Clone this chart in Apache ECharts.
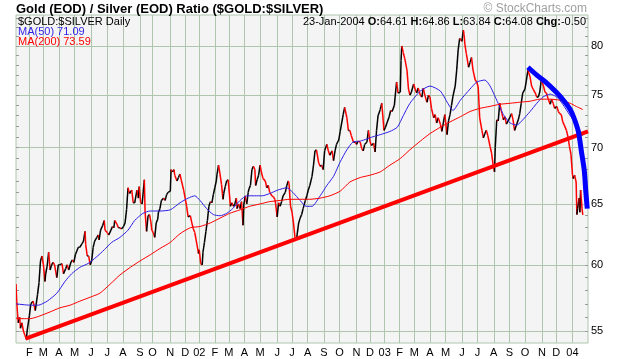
<!DOCTYPE html>
<html><head><meta charset="utf-8">
<script src="https://cdn.jsdelivr.net/npm/echarts@6/dist/echarts.min.js"></script>
<style>html,body{margin:0;padding:0;background:#fff}#c{width:620px;height:359px}</style>
</head><body><div id="c"></div>
<script>
// x = trading-day index (0 = first bar shown, early Jan 2001)
const monthStartDay = [18,37,58,79,101,123,144,167,184,208,228,247,268,287,308,329,352,372,393,415,436,459,477,497,517,537,558,579,601,622,644,665,686,709,728,750];
const monthLabel = ['F','M','A','M','J','J','A','S','O','N','D','02','F','M','A','M','J','J','A','S','O','N','D','03','F','M','A','M','J','J','A','S','O','N','D','04'];
const yTickValues = [55,60,65,70,75,80];
const yMinorValues = [55,56,57,58,59,60,61,62,63,64,65,66,67,68,69,70,71,72,73,74,75,76,77,78,79,80,81,82,83];

const priceDay = [
0,1,2,3,5,6,8,10,12,14,
15,18,20,23,26,29,31,33,35,37,
39,40,42,44,46,48,50,52,55,57,
59,62,64,67,69,71,74,76,78,80,
84,86,89,91,93,94,96,98,100,102,
104,106,109,111,112,114,117,119,120,123,
125,128,130,132,133,136,138,140,142,145,
147,149,151,153,156,158,160,163,165,166,
168,170,173,174,176,178,180,182,183,185,
187,189,191,192,194,196,199,201,203,205,
208,209,211,213,214,217,219,221,223,226,
228,230,232,235,237,239,241,244,246,247,
249,251,252,254,256,258,260,262,264,266,
268,270,271,273,275,277,279,280,282,284,
286,288,289,291,293,295,297,298,300,302,
304,306,307,309,311,313,314,316,318,320,
322,323,325,327,329,331,333,336,338,340,
342,345,347,349,350,352,354,356,358,360,
363,365,367,368,370,372,374,376,378,381,
383,385,387,390,392,394,396,399,401,403,
405,408,410,412,414,416,419,421,423,426,
428,430,432,435,437,439,441,443,446,448,
450,452,455,457,459,461,464,466,468,470,
473,475,477,479,482,484,486,488,491,493,
495,496,498,500,503,505,507,510,511,513,
515,518,519,520,522,524,527,529,531,533,
536,538,540,542,545,547,549,551,554,556,
558,560,563,565,567,569,572,574,576,578,
581,583,585,587,589,592,594,596,598,601,
603,604,605,607,610,612,614,616,619,621,
623,625,628,630,632,634,636,639,641,643,
645,646,648,650,652,655,657,659,661,664,
666,668,670,672,675,677,679,681,683,686,
688,690,693,695,697,700,702,704,706,708,
711,713,715,717,720,722,724,726,729,731,
733,735,737,739,742,744,746,748,750,751,
753,755,756,757,759,760,761,763,764];
const priceVal = [
58.5,57.2,56.3,55.6,56.0,55.2,55.6,55.0,54.7,54.4,
55.0,56.1,57.0,57.2,56.5,57.7,58.6,60.3,60.7,60.0,
58.7,59.3,59.9,61.0,59.6,60.0,60.2,60.0,59.0,60.0,
60.0,60.1,59.3,59.7,60.0,59.6,60.2,60.4,60.2,60.8,
61.4,61.4,61.7,61.9,62.7,61.6,60.7,60.7,60.0,60.3,
61.4,61.9,62.2,62.4,62.0,62.8,63.2,63.6,62.8,62.6,
62.4,62.8,63.1,63.0,63.6,63.3,63.0,63.0,62.9,63.1,
63.4,64.5,66.4,65.9,66.2,65.1,65.1,66.2,65.5,66.5,
65.1,65.0,67.1,64.3,62.7,64.0,64.1,63.4,62.8,62.6,
62.2,63.4,63.7,64.3,64.6,65.3,65.5,65.3,65.8,66.0,
66.1,68.0,67.8,68.0,67.5,67.0,67.3,67.6,67.0,66.2,
65.5,64.8,63.9,64.0,63.4,62.9,62.6,61.6,60.9,61.2,
60.1,60.0,61.0,61.8,62.7,63.6,64.8,65.2,65.1,65.8,
66.4,67.0,67.6,68.4,67.6,66.7,65.4,65.9,66.5,67.0,
67.1,65.6,64.8,65.1,64.8,65.0,65.5,64.6,65.0,64.6,
65.2,63.2,64.9,65.7,65.0,66.0,66.3,66.6,68.0,68.3,
68.0,66.6,67.1,67.5,68.4,67.7,67.2,67.0,66.4,66.6,
66.0,65.7,65.6,65.4,65.0,63.9,65.1,64.8,65.2,65.7,
66.0,66.6,67.0,66.8,64.8,64.3,63.4,62.2,62.0,63.4,
63.8,64.1,64.6,65.3,65.7,66.2,66.6,67.4,68.4,69.7,
69.8,68.6,68.3,68.4,68.0,69.7,70.3,69.7,69.3,69.7,
68.8,69.7,70.3,70.7,71.5,72.3,73.1,73.8,72.8,71.6,
71.6,71.1,70.5,70.5,70.3,70.6,70.5,69.9,69.7,70.3,
70.5,71.6,70.6,70.2,70.4,69.6,71.6,73.0,73.6,74.2,
72.5,71.6,71.9,72.3,72.9,73.5,73.4,74.0,74.8,76.3,
75.2,75.3,78.5,80.0,79.3,78.7,77.5,75.6,75.0,75.3,
76.1,75.6,75.2,75.7,75.0,74.8,75.7,75.0,74.3,75.0,
74.8,73.7,72.8,73.1,72.3,72.8,72.2,71.5,72.3,73.1,
71.2,72.5,73.1,74.0,74.9,75.9,77.5,79.6,80.8,80.5,
81.7,81.2,80.2,79.2,77.8,78.3,78.8,77.5,76.5,76.3,
75.8,72.8,71.6,70.9,71.3,71.6,71.1,70.1,69.5,68.5,
67.8,70.0,72.6,72.5,74.2,73.2,72.6,72.9,72.2,72.6,
72.9,73.2,72.6,71.6,72.2,72.6,73.2,74.2,75.2,75.6,
76.5,77.5,76.8,75.9,75.6,75.2,74.8,74.8,75.3,76.5,
75.9,75.3,75.2,74.7,74.1,74.6,74.2,73.7,73.9,73.4,
73.2,73.1,72.4,72.1,71.6,71.0,70.1,69.4,67.6,67.2,
67.5,66.9,64.1,64.6,65.5,64.3,66.2,64.58,64.08];

const ma50Day = [0,19,30,42,55,66,75,86,97,108,119,129,140,151,160,171,181,194,208,221,232,241,248,257,266,275,284,292,302,311,322,332,342,353,365,373,383,391,399,410,419,428,437,446,454,464,473,481,491,504,514,522,531,545,558,572,582,589,599,612,621,632,639,648,657,666,675,683,693,702,710,720,729,737,746,755,764];
const ma50Val = [57.0,56.9,56.9,57.2,57.8,58.7,59.3,59.8,60.1,60.6,61.2,61.8,62.2,62.8,63.6,64.2,64.4,64.4,64.5,65.1,65.5,65.7,65.3,64.6,64.1,64.0,64.2,64.6,65.3,65.7,65.7,65.7,65.9,66.2,66.4,66.0,65.3,64.8,64.8,65.7,66.6,67.4,68.7,69.8,70.5,70.6,70.8,71.0,71.2,71.5,71.9,73.0,74.2,75.4,75.9,75.4,74.2,73.5,74.5,75.6,76.3,76.5,75.9,74.5,73.1,72.3,72.1,72.6,73.4,74.2,74.8,75.1,74.8,74.1,73.1,72.2,71.09];

const ma200Day = [0,19,32,46,59,73,86,100,113,127,140,154,167,181,194,208,221,235,248,262,275,288,302,315,329,342,356,369,383,396,410,423,437,450,464,477,491,504,518,531,545,558,572,585,599,612,625,639,652,666,679,693,706,720,733,747,755,764];
const ma200Val = [55.9,55.9,56.1,56.4,56.7,56.9,57.2,57.5,57.8,58.5,59.2,59.8,60.3,60.8,61.3,61.8,62.5,63.0,63.1,63.4,63.8,64.2,64.5,64.8,65.0,65.2,65.3,65.4,65.4,65.4,65.5,65.7,66.1,66.9,67.3,67.5,67.8,68.4,69.0,69.8,70.6,71.3,71.9,72.4,72.9,73.4,73.7,73.9,74.1,74.2,74.3,74.4,74.6,74.6,74.5,74.2,73.9,73.59];

const trendDay = [13, 771];
const trendVal = [54.45, 71.5];

const arcDay = [690,702,714,728,739,747,752,758,762,766,768,770];
const arcVal = [77.8,77.0,76.3,75.3,74.4,73.6,72.8,71.5,69.7,67.9,66.1,64.6];

const FONT = '"Liberation Sans", Arial, Helvetica, sans-serif';
const GRID = '#aec6ae';
const pairs = (d, v) => d.map((x, i) => [x, v[i]]);

const yBase = {type: 'log', logBase: 10, min: 54.14, max: 83.33, gridIndex: 0};

const chart = echarts.init(document.getElementById('c'), null, {renderer: 'canvas'});
chart.setOption({
  animation: false,
  backgroundColor: '#ffffff',
  grid: {left: 16, right: 32, top: 15, bottom: 16, show: true, backgroundColor: '#f4f4f4', borderColor: GRID, borderWidth: 1, containLabel: false},
  xAxis: {
    type: 'value', min: 0, max: 771,
    axisLine: {show: false},
    axisTick: {show: false, customValues: monthStartDay},
    axisLabel: {customValues: monthStartDay, margin: 4, fontSize: 11, fontFamily: FONT, color: '#000',
      formatter: v => monthLabel[monthStartDay.indexOf(v)] || ''},
    splitLine: {show: true, lineStyle: {color: GRID, width: 1}}
  },
  yAxis: [
    Object.assign({}, yBase, {
      position: 'right',
      axisLine: {show: false},
      axisTick: {show: false, customValues: yTickValues},
      axisLabel: {customValues: yTickValues, margin: 3, fontSize: 11, fontFamily: FONT, color: '#000', formatter: v => String(Math.round(v))},
      splitLine: {show: true, lineStyle: {color: GRID, width: 1}}
    }),
    Object.assign({}, yBase, {
      position: 'right',
      axisLine: {show: false},
      axisTick: {show: true, inside: true, length: 3, customValues: yMinorValues, lineStyle: {color: '#9a9a9a'}},
      axisLabel: {show: false},
      splitLine: {show: false}
    }),
    Object.assign({}, yBase, {
      position: 'left',
      axisLine: {show: false},
      axisTick: {show: true, inside: true, length: 3, customValues: yMinorValues, lineStyle: {color: '#9a9a9a'}},
      axisLabel: {show: false},
      splitLine: {show: false}
    })
  ],
  series: [
    {
      type: 'custom', silent: true, clip: true,
      data: pairs(priceDay, priceVal),
      encode: {x: 0, y: 1},
      renderItem: (params, api) => {
        const i = params.dataIndex;
        const j = i > 0 ? i - 1 : 0;
        const cur = api.coord([api.value(0), api.value(1)]);
        const prev = api.coord([priceDay[j], priceVal[j]]);
        const up = priceVal[i] >= priceVal[j];
        return {type: 'line', shape: {x1: prev[0], y1: prev[1], x2: cur[0], y2: cur[1]},
          style: {stroke: up ? '#000000' : '#ff0000', lineWidth: 1.5}};
      }
    },
    {type: 'line', data: pairs(ma50Day, ma50Val), showSymbol: false, smooth: 0.2, silent: true,
      lineStyle: {color: '#2f1fe6', width: 1}},
    {type: 'line', data: pairs(ma200Day, ma200Val), showSymbol: false, smooth: 0.2, silent: true,
      lineStyle: {color: '#ff0000', width: 1}},
    {type: 'line', data: pairs(trendDay, trendVal), showSymbol: false, silent: true,
      lineStyle: {color: '#ff0000', width: 4}},
    {type: 'line', data: pairs(arcDay, arcVal), showSymbol: false, smooth: 0.3, silent: true,
      lineStyle: {color: '#0000ff', width: 5, cap: 'butt'}}
  ],
  graphic: [
    {type: 'text', x: 16, y: 9, z: 100, style: {text: 'Gold (EOD) / Silver (EOD) Ratio ($GOLD:$SILVER)', font: 'bold 13px ' + FONT, fill: '#000', align: 'left', verticalAlign: 'middle', textAlign: 'left', textVerticalAlign: 'middle'}},
    {type: 'text', x: 587, y: 9, z: 100, style: {text: '\u00A9 StockCharts.com', font: '12px ' + FONT, fill: '#a0a0a0', align: 'right', verticalAlign: 'middle', textAlign: 'right', textVerticalAlign: 'middle'}},
    {type: 'text', x: 18, y: 22, z: 100, style: {text: '$GOLD:$SILVER Daily', font: '11px ' + FONT, fill: '#000', align: 'left', verticalAlign: 'middle', textAlign: 'left', textVerticalAlign: 'middle'}},
    {type: 'text', x: 18, y: 32, z: 100, style: {text: 'MA(50) 71.09', font: '11px ' + FONT, fill: '#2f1fe6', align: 'left', verticalAlign: 'middle', textAlign: 'left', textVerticalAlign: 'middle'}},
    {type: 'text', x: 18, y: 42, z: 100, style: {text: 'MA(200) 73.59', font: '11px ' + FONT, fill: '#ff0000', align: 'left', verticalAlign: 'middle', textAlign: 'left', textVerticalAlign: 'middle'}},
    {type: 'text', x: 586, y: 22, z: 100, style: {
      text: '23-Jan-2004 {b|O:}64.61 {b|H:}64.86 {b|L:}63.84 {b|C:}64.08 {b|Chg:}-0.50',
      font: '11px ' + FONT, fill: '#000', align: 'right', verticalAlign: 'middle', textAlign: 'right', textVerticalAlign: 'middle',
      rich: {b: {font: 'bold 11px ' + FONT, fill: '#000'}}}}
  ]
});
</script>
</body></html>
